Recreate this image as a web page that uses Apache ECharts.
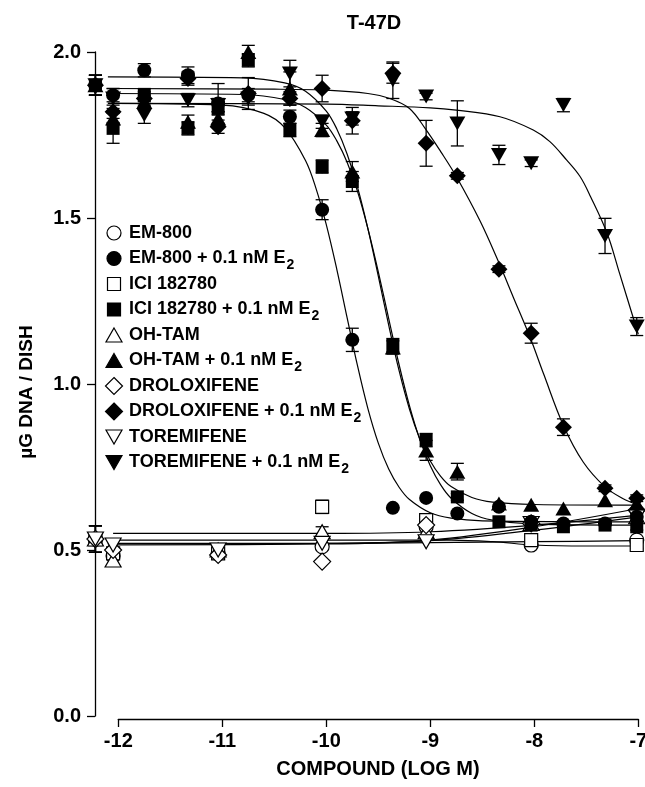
<!DOCTYPE html>
<html>
<head>
<meta charset="utf-8">
<script src="https://cdn.jsdelivr.net/npm/echarts@6/dist/echarts.min.js"></script>
<style>
  html, body { margin: 0; padding: 0; background: #ffffff; }
  #chart { width: 645px; height: 787px; }
</style>
</head>
<body>
<div id="chart"></div>
<script>
// Log molar concentration of each column; the first entry is the control (no compound)
const doseLog = [-12.22, -12.05, -11.75, -11.33, -11.04, -10.75, -10.35, -10.04, -9.75, -9.36, -9.04, -8.74, -8.34, -8.03, -7.72, -7.32, -7.015];

// Mean DNA per dish (µg) for each compound, with and without 0.1 nM estradiol
const em800      = [0.533, 0.482, null, null, 0.49, null, null, 0.51, null, null, 0.57, null, null, 0.515, null, null, 0.53];
const em800E2    = [1.90, 1.87, 1.945, 1.93, 1.845, 1.87, 1.805, 1.525, 1.133, 0.627, 0.657, 0.61, 0.63, 0.585, 0.58, 0.58, 0.60];
const ici        = [0.533, 0.49, null, null, 0.49, null, null, 0.63, null, null, 0.59, null, null, 0.53, null, null, 0.515];
const iciE2      = [1.90, 1.77, 1.87, 1.77, 1.83, 1.975, 1.765, 1.655, 1.61, 1.117, 0.831, 0.66, 0.585, 0.575, 0.57, 0.575, 0.57];
const ohTam      = [0.533, 0.47, null, null, 0.50, null, null, 0.555, null, null, 0.555, null, null, 0.58, null, null, 0.60];
const ohTamE2    = [1.90, 1.80, 1.85, 1.79, 1.80, 2.00, 1.89, 1.765, 1.64, 1.11, 0.80, 0.736, 0.64, 0.636, 0.625, 0.65, 0.64];
const drolox     = [0.533, 0.50, null, null, 0.485, null, null, 0.465, null, null, 0.575, null, null, 0.58, null, null, 0.62];
const droloxE2   = [1.90, 1.82, 1.86, 1.92, 1.775, 1.875, 1.86, 1.89, 1.793, 1.936, 1.725, 1.627, 1.346, 1.153, 0.87, 0.686, 0.656];
const toremi     = [0.533, 0.515, null, null, 0.50, null, null, 0.52, null, null, 0.525, null, null, 0.58, null, null, 0.60];
const toremiE2   = [1.90, 1.86, 1.81, 1.855, 1.84, 1.86, 1.935, 1.79, 1.80, 1.915, 1.866, 1.785, 1.69, 1.665, 1.84, 1.446, 1.173];

// Standard errors (0 = bar hidden inside the symbol)
const em800Err    = [0.04, 0, 0, 0, 0, 0, 0, 0, 0, 0, 0, 0, 0, 0, 0, 0, 0];
const em800E2Err  = [0.03, 0.02, 0.02, 0.025, 0.06, 0.02, 0.02, 0.03, 0.035, 0, 0, 0, 0, 0, 0, 0, 0.01];
const iciErr      = [0.04, 0, 0, 0, 0, 0, 0, 0.02, 0, 0, 0.01, 0, 0, 0, 0, 0, 0.01];
const iciE2Err    = [0.03, 0.045, 0.02, 0.02, 0.02, 0.02, 0.02, 0.02, 0.03, 0.02, 0.02, 0.01, 0, 0, 0, 0, 0.01];
const ohTamErr    = [0.04, 0, 0, 0, 0, 0, 0, 0.015, 0, 0, 0, 0, 0, 0, 0, 0, 0];
const ohTamE2Err  = [0.03, 0.02, 0.02, 0.02, 0.02, 0.02, 0.05, 0.02, 0.03, 0.02, 0.03, 0.025, 0, 0, 0, 0, 0];
const droloxErr   = [0.04, 0, 0, 0, 0, 0, 0, 0, 0, 0, 0, 0, 0, 0, 0, 0, 0];
const droloxE2Err = [0.03, 0.02, 0.02, 0.02, 0.02, 0.048, 0.02, 0.04, 0.04, 0.03, 0.069, 0.01, 0.01, 0.03, 0.025, 0.01, 0.01];
const toremiErr   = [0.04, 0, 0, 0, 0, 0, 0, 0, 0, 0, 0, 0, 0, 0, 0, 0, 0];
const toremiE2Err = [0.03, 0.03, 0.025, 0.02, 0.02, 0.02, 0.04, 0.02, 0.02, 0.055, 0.01, 0.068, 0.029, 0.01, 0.02, 0.053, 0.027];

// Fitted dose-response curves, sampled along log concentration
const em800FitX    = [-12.1, -10, -9, -8, -7];
const em800FitY    = [0.52, 0.52, 0.522, 0.525, 0.528];
const em800E2FitX  = [-12.1, -11.0, -10.6, -10.4, -10.2, -10.1, -10.0, -9.9, -9.8, -9.7, -9.6, -9.5, -9.4, -9.3, -9.2, -9.0, -8.8, -8.5, -7.0];
const em800E2FitY  = [1.845, 1.840, 1.815, 1.772, 1.673, 1.590, 1.480, 1.347, 1.200, 1.055, 0.926, 0.822, 0.744, 0.689, 0.652, 0.612, 0.596, 0.588, 0.585];
const iciFitX      = [-12.1, -9.5, -8.8, -8.4, -8.0, -7.5, -7.0];
const iciFitY      = [0.53, 0.53, 0.53, 0.525, 0.515, 0.512, 0.512];
const iciE2FitX    = [-12.1, -10.8, -10.4, -10.2, -10.0, -9.9, -9.8, -9.7, -9.6, -9.5, -9.4, -9.3, -9.2, -9.1, -9.0, -8.9, -8.8, -8.6, -8.4, -8.0, -7.0];
const iciE2FitY    = [1.875, 1.872, 1.857, 1.833, 1.780, 1.733, 1.668, 1.580, 1.468, 1.338, 1.197, 1.058, 0.934, 0.832, 0.754, 0.696, 0.656, 0.610, 0.590, 0.578, 0.575];
const ohTamFitX    = [-12.05, -10, -9, -8, -7];
const ohTamFitY    = [0.55, 0.55, 0.555, 0.575, 0.605];
const ohTamE2FitX  = [-12.1, -10.8, -10.4, -10.2, -10.0, -9.9, -9.8, -9.7, -9.6, -9.5, -9.4, -9.3, -9.2, -9.1, -9.0, -8.9, -8.8, -8.6, -8.4, -8.0, -7.0];
const ohTamE2FitY  = [1.925, 1.922, 1.907, 1.882, 1.822, 1.769, 1.693, 1.593, 1.468, 1.325, 1.177, 1.040, 0.924, 0.834, 0.768, 0.722, 0.691, 0.658, 0.644, 0.637, 0.635];
const droloxFitX   = [-12.1, -10, -9, -8, -7];
const droloxFitY   = [0.515, 0.518, 0.53, 0.57, 0.625];
const droloxE2FitX = [-12.1, -10.5, -10.0, -9.6, -9.39, -9.2, -9.05, -8.9, -8.75, -8.52, -8.34, -8.2, -8.04, -7.91, -7.72, -7.53, -7.32, -7.15, -7.0];
const droloxE2FitY = [1.89, 1.888, 1.885, 1.875, 1.86, 1.83, 1.77, 1.70, 1.625, 1.49, 1.365, 1.26, 1.14, 1.03, 0.875, 0.765, 0.69, 0.655, 0.635];
const toremiFitX   = [-12.1, -10, -9, -8, -7];
const toremiFitY   = [0.518, 0.52, 0.528, 0.56, 0.60];
const toremiE2FitX = [-12.1, -10.0, -9.5, -9.0, -8.75, -8.33, -8.01, -7.85, -7.69, -7.56, -7.46, -7.30, -7.18, -7.0];
const toremiE2FitY = [1.845, 1.843, 1.838, 1.832, 1.825, 1.805, 1.765, 1.73, 1.675, 1.625, 1.565, 1.454, 1.333, 1.15];

// Axis tick values
const xTicks = [-12, -11, -10, -9, -8, -7];
const yTicks = [0.0, 0.5, 1.0, 1.5, 2.0];

const FONT = '"Liberation Sans", Arial, Helvetica, sans-serif';

const groups = [
  { label: 'EM-800',            sub: '',  shape: 'circle',   filled: false, y: em800,    err: em800Err,    fx: em800FitX,    fy: em800FitY },
  { label: 'EM-800 + 0.1 nM E', sub: '2', shape: 'circle',   filled: true,  y: em800E2,  err: em800E2Err,  fx: em800E2FitX,  fy: em800E2FitY },
  { label: 'ICI 182780',        sub: '',  shape: 'rect',     filled: false, y: ici,      err: iciErr,      fx: iciFitX,      fy: iciFitY },
  { label: 'ICI 182780 + 0.1 nM E', sub: '2', shape: 'rect', filled: true,  y: iciE2,    err: iciE2Err,    fx: iciE2FitX,    fy: iciE2FitY },
  { label: 'OH-TAM',            sub: '',  shape: 'triangle', filled: false, y: ohTam,    err: ohTamErr,    fx: ohTamFitX,    fy: ohTamFitY },
  { label: 'OH-TAM + 0.1 nM E', sub: '2', shape: 'triangle', filled: true,  y: ohTamE2,  err: ohTamE2Err,  fx: ohTamE2FitX,  fy: ohTamE2FitY },
  { label: 'DROLOXIFENE',       sub: '',  shape: 'diamond',  filled: false, y: drolox,   err: droloxErr,   fx: droloxFitX,   fy: droloxFitY },
  { label: 'DROLOXIFENE + 0.1 nM E', sub: '2', shape: 'diamond', filled: true, y: droloxE2, err: droloxE2Err, fx: droloxE2FitX, fy: droloxE2FitY },
  { label: 'TOREMIFENE',        sub: '',  shape: 'invtri',   filled: false, y: toremi,   err: toremiErr,   fx: toremiFitX,   fy: toremiFitY },
  { label: 'TOREMIFENE + 0.1 nM E', sub: '2', shape: 'invtri', filled: true, y: toremiE2, err: toremiE2Err, fx: toremiE2FitX, fy: toremiE2FitY }
];

const symbolSpec = {
  circle:   { symbol: 'circle',   size: 14,       rotate: 0 },
  rect:     { symbol: 'rect',     size: 13,       rotate: 0 },
  triangle: { symbol: 'triangle', size: [16, 14], rotate: 0 },
  diamond:  { symbol: 'diamond',  size: [17, 17], rotate: 0 },
  invtri:   { symbol: 'triangle', size: [16, 14], rotate: 180 }
};

const series = [];

// fitted curves
groups.forEach(g => {
  series.push({
    type: 'line',
    xAxisIndex: 0, yAxisIndex: 0,
    data: g.fx.map((x, i) => [x, g.fy[i]]),
    smooth: 0.35,
    symbol: 'none',
    showSymbol: false,
    clip: false,
    silent: true,
    z: 1,
    lineStyle: { color: '#000', width: 1.2 }
  });
});

// error bars
function errorBar(params, api) {
  const x = api.value(0), y = api.value(1), e = api.value(2);
  const top = api.coord([x, y + e]);
  const bot = api.coord([x, y - e]);
  const cap = 6.5;
  const st = { stroke: '#000', lineWidth: 1.3 };
  return {
    type: 'group',
    children: [
      { type: 'line', shape: { x1: top[0], y1: top[1], x2: bot[0], y2: bot[1] }, style: st },
      { type: 'line', shape: { x1: top[0] - cap, y1: top[1], x2: top[0] + cap, y2: top[1] }, style: st },
      { type: 'line', shape: { x1: bot[0] - cap, y1: bot[1], x2: bot[0] + cap, y2: bot[1] }, style: st }
    ]
  };
}
groups.forEach(g => {
  const d = [];
  doseLog.forEach((x, i) => {
    if (g.y[i] != null && g.err[i] > 0) d.push([x, g.y[i], g.err[i]]);
  });
  series.push({
    type: 'custom',
    xAxisIndex: 0, yAxisIndex: 0,
    renderItem: errorBar,
    data: d,
    clip: false,
    silent: true,
    z: 2
  });
});

// open symbols first, filled symbols on top
const ordered = groups.filter(g => !g.filled).concat(groups.filter(g => g.filled));
ordered.forEach(g => {
  const s = symbolSpec[g.shape];
  const d = [];
  doseLog.forEach((x, i) => { if (g.y[i] != null) d.push([x, g.y[i]]); });
  series.push({
    type: 'scatter',
    name: g.label + g.sub,
    xAxisIndex: 0, yAxisIndex: 0,
    data: d,
    symbol: s.symbol,
    symbolSize: s.size,
    symbolRotate: s.rotate,
    clip: false,
    silent: true,
    z: g.filled ? 4 : 3,
    itemStyle: g.filled
      ? { color: '#000', borderColor: '#000', borderWidth: 0, opacity: 1 }
      : { color: '#fff', borderColor: '#000', borderWidth: 1.2, opacity: 1 }
  });
});

// legend drawn as graphic elements
const legendTop = 233, legendStep = 25.5, legendSymX = 114, legendTextX = 129;
const measure = document.createElement('canvas').getContext('2d');
const legendFont = 'bold 18px ' + FONT;
const subFont = 'bold 14px ' + FONT;
measure.font = legendFont;

function legendSymbol(shape, filled, cx, cy) {
  const style = { fill: filled ? '#000' : '#fff', stroke: '#000', lineWidth: 1.2 };
  if (shape === 'circle') return { type: 'circle', shape: { cx: cx, cy: cy, r: 7 }, style: style };
  if (shape === 'rect') return { type: 'rect', shape: { x: cx - 6.5, y: cy - 6.5, width: 13, height: 13 }, style: style };
  if (shape === 'triangle') return { type: 'polygon', shape: { points: [[cx, cy - 7], [cx + 8, cy + 7], [cx - 8, cy + 7]] }, style: style };
  if (shape === 'invtri') return { type: 'polygon', shape: { points: [[cx - 8, cy - 7], [cx + 8, cy - 7], [cx, cy + 7]] }, style: style };
  return { type: 'polygon', shape: { points: [[cx, cy - 8.5], [cx + 8.5, cy], [cx, cy + 8.5], [cx - 8.5, cy]] }, style: style };
}

const graphics = [];
groups.forEach((g, i) => {
  const cy = legendTop + i * legendStep;
  graphics.push(legendSymbol(g.shape, g.filled, legendSymX, cy));
  graphics.push({
    type: 'text',
    style: { text: g.label, x: legendTextX, y: cy, font: legendFont, fill: '#000',
             align: 'left', verticalAlign: 'middle', textAlign: 'left', textVerticalAlign: 'middle' }
  });
  if (g.sub) {
    const w = measure.measureText(g.label).width;
    graphics.push({
      type: 'text',
      style: { text: g.sub, x: legendTextX + w + 1, y: cy + 7, font: subFont, fill: '#000',
               align: 'left', verticalAlign: 'middle', textAlign: 'left', textVerticalAlign: 'middle' }
    });
  }
});

// titles
graphics.push({
  type: 'text',
  style: { text: 'T-47D', x: 374, y: 23, font: 'bold 20px ' + FONT, fill: '#000',
           align: 'center', verticalAlign: 'middle', textAlign: 'center', textVerticalAlign: 'middle' }
});
graphics.push({
  type: 'text',
  style: { text: 'COMPOUND (LOG M)', x: 378, y: 769, font: 'bold 20px ' + FONT, fill: '#000',
           align: 'center', verticalAlign: 'middle', textAlign: 'center', textVerticalAlign: 'middle' }
});
graphics.push({
  type: 'text',
  x: 27, y: 392, rotation: Math.PI / 2,
  style: { text: 'µG DNA / DISH', x: 0, y: 0, font: 'bold 19px ' + FONT, fill: '#000',
           align: 'center', verticalAlign: 'middle', textAlign: 'center', textVerticalAlign: 'middle' }
});

const axisLabelStyle = { color: '#000', fontSize: 20, fontWeight: 'bold', fontFamily: FONT };

const option = {
  animation: false,
  backgroundColor: '#fff',
  grid: [
    { left: 95, right: 6.7, top: 52, bottom: 71, containLabel: false, outerBoundsMode: 'none' },
    { left: 118.3, right: 6.7, top: 700, bottom: 68, containLabel: false, outerBoundsMode: 'none' }
  ],
  xAxis: [
    { type: 'value', gridIndex: 0, min: -12.224, max: -7, show: false, splitLine: { show: false } },
    {
      type: 'value', gridIndex: 1, min: xTicks[0], max: xTicks[xTicks.length - 1], interval: 1,
      position: 'bottom',
      axisLine: { show: true, onZero: false, lineStyle: { color: '#000', width: 1.3 } },
      axisTick: { show: true, inside: false, length: 8, lineStyle: { color: '#000', width: 1.3 } },
      splitLine: { show: false },
      axisLabel: Object.assign({ margin: 12, formatter: v => String(v) }, axisLabelStyle)
    }
  ],
  yAxis: [
    {
      type: 'value', gridIndex: 0, min: yTicks[0], max: yTicks[yTicks.length - 1], interval: 0.5,
      axisLine: { show: true, onZero: false, lineStyle: { color: '#000', width: 1.3 } },
      axisTick: { show: true, inside: false, length: 8, lineStyle: { color: '#000', width: 1.3 } },
      splitLine: { show: false },
      axisLabel: Object.assign({ margin: 14, formatter: v => v.toFixed(1) }, axisLabelStyle)
    },
    { type: 'value', gridIndex: 1, min: 0, max: 1, show: false, splitLine: { show: false } }
  ],
  graphic: graphics,
  series: series
};

const chart = echarts.init(document.getElementById('chart'), null, { renderer: 'canvas' });
chart.setOption(option);
</script>
</body>
</html>
